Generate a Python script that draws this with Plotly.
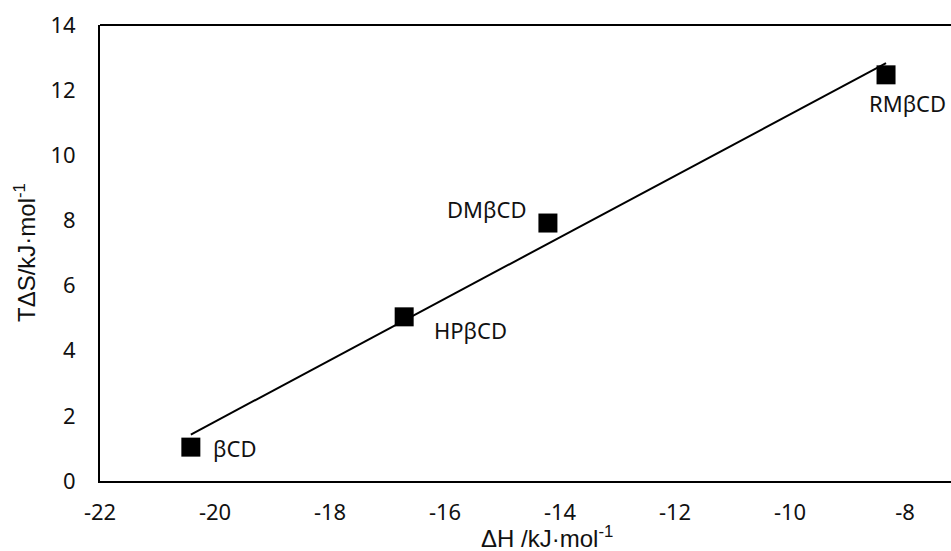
import numpy as np
import plotly.graph_objects as go

# Data
names = ["βCD", "HPβCD", "DMβCD", "RMβCD"]
delta_h = [-20.42, -16.71, -14.21, -8.33]
t_delta_s = [1.04, 5.04, 7.92, 12.47]
x_ticks = [-22, -20, -18, -16, -14, -12, -10, -8]
x_tick_labels = ["-22", "-20", "-18", "-16", "-14", "-12", "-10", "-8"]
y_ticks = [0, 2, 4, 6, 8, 10, 12, 14]
y_tick_labels = ["0", "2", "4", "6", "8", "10", "12", "14"]

# label offsets in pixels (style only)
label_dx = [44, 66, -61, 21]
label_dy = [-1, -13, 14, -28]

slope, intercept = np.polyfit(delta_h, t_delta_s, 1)
fit_x = [min(delta_h), max(delta_h)]
fit_y = [slope * v + intercept for v in fit_x]

fig = go.Figure()
fig.add_trace(go.Scatter(x=fit_x, y=fit_y, mode="lines",
                         line=dict(color="black", width=2), hoverinfo="skip"))
fig.add_trace(go.Scatter(x=delta_h, y=t_delta_s, mode="markers",
                         marker=dict(symbol="square", size=19, color="black"),
                         text=names))

tick_font = dict(family="Noto Sans", size=22, color="#111111")
for n, xv, yv, dx, dy in zip(names, delta_h, t_delta_s, label_dx, label_dy):
    fig.add_annotation(x=xv, y=yv, xref="x", yref="y", text=n, showarrow=False,
                       xshift=dx, yshift=dy, font=tick_font)

fig.update_layout(
    width=951, height=551,
    margin=dict(l=100, r=0, t=25, b=70),
    paper_bgcolor="white", plot_bgcolor="white",
    showlegend=False,
    xaxis=dict(range=[-22, -22 + 851 / 57.5], tickvals=x_ticks, ticktext=x_tick_labels,
               ticks="", showgrid=False, zeroline=False, showline=True,
               linecolor="black", linewidth=2, tickfont=tick_font,
               ticklabelstandoff=11),
    yaxis=dict(range=[0, 14], tickvals=y_ticks, ticktext=y_tick_labels, ticks="",
               showgrid=False, zeroline=False, showline=True, linecolor="black",
               linewidth=2, tickfont=tick_font, ticklabelstandoff=18),
)

title_font = dict(family="Liberation Sans", size=24, color="#111111")
fig.add_annotation(text="ΔH /kJ·mol<sup>-1</sup>", xref="paper", yref="paper",
                   x=(547 - 100) / 851, y=-(537 - 481) / 456, showarrow=False,
                   font=title_font, xanchor="center", yanchor="middle")
fig.add_annotation(text="TΔS/kJ·mol<sup>-1</sup>", xref="paper", yref="paper",
                   x=-(100 - 25) / 851, y=0.5, showarrow=False, textangle=-90,
                   font=title_font, xanchor="center", yanchor="middle")
fig.add_shape(type="line", xref="paper", yref="paper", x0=0, x1=1, y0=1, y1=1,
              line=dict(color="black", width=2))

fig.write_html("out.html", config={"displayModeBar": False},
               post_script="document.body.style.margin='0';"
               "document.body.style.overflow='hidden';")
